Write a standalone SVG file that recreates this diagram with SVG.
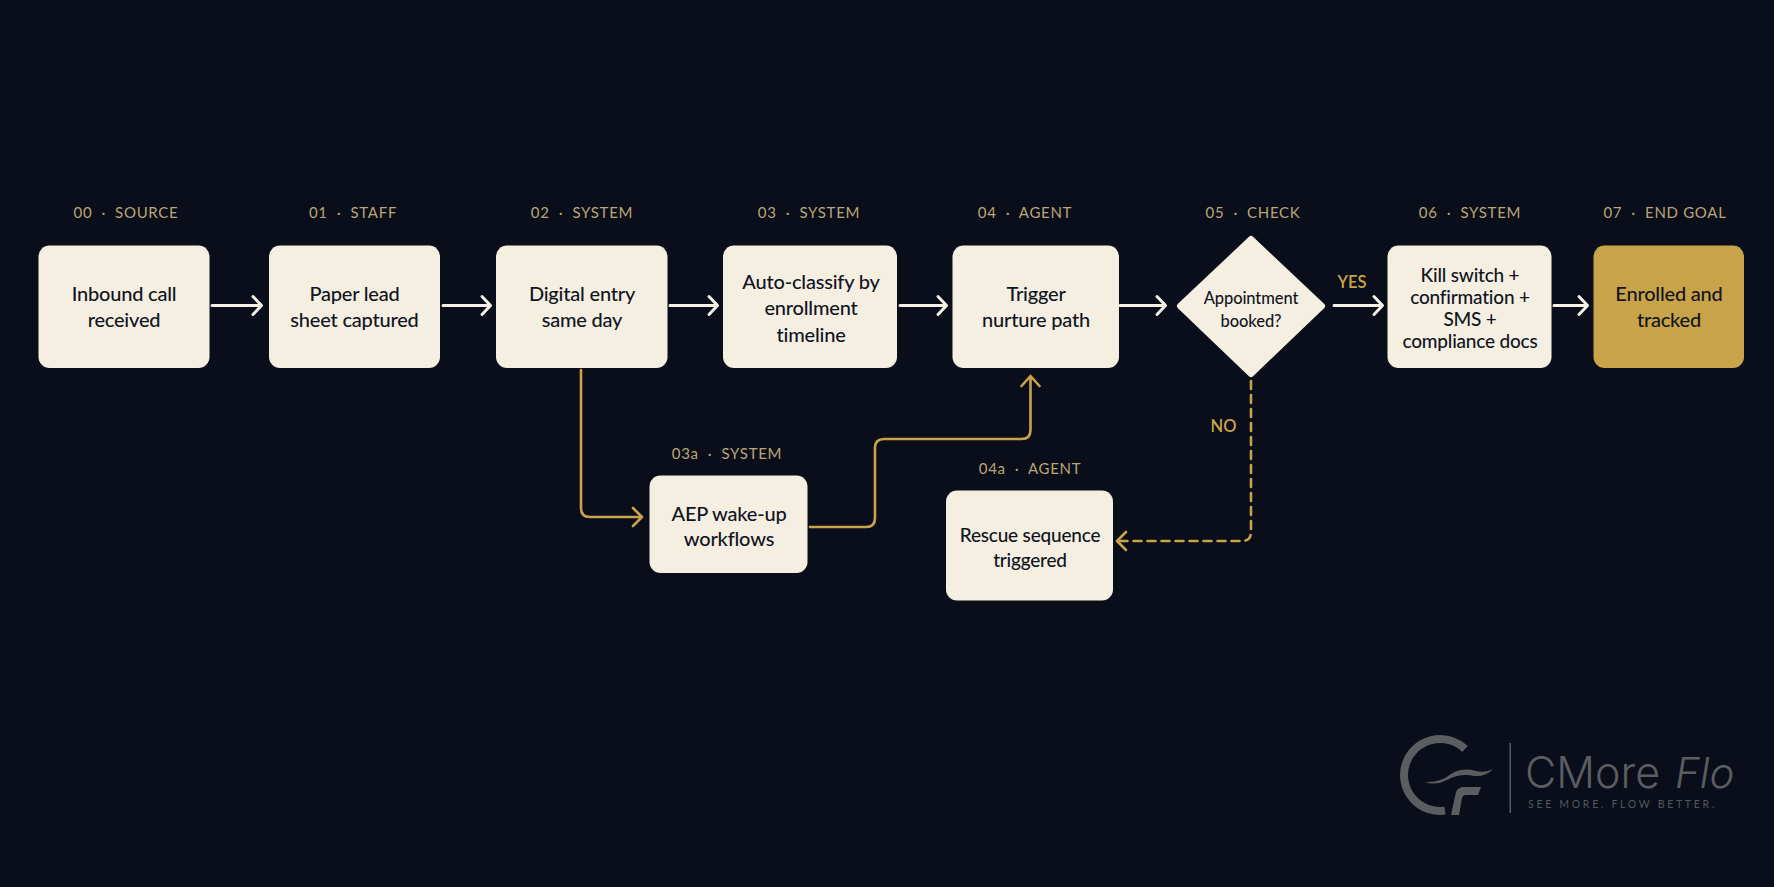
<svg xmlns="http://www.w3.org/2000/svg" width="1774" height="887" viewBox="0 0 1774 887">
<style>
text{font-family:"Lato","Liberation Sans",sans-serif}
.box{fill:#f5efe2}
.gold{fill:#c9a349}
.t{font-size:20px;font-weight:500;fill:#11151f;text-anchor:middle;letter-spacing:-.2px}
.s{font-size:19px}
.d{font-size:16.5px;letter-spacing:-.1px}
.l{font-size:15px;fill:#bca576;text-anchor:middle;letter-spacing:.7px}
.w{fill:none;stroke:#f7f2e6;stroke-width:3;stroke-linecap:round;stroke-linejoin:round}
.g{fill:none;stroke:#c9a349;stroke-width:2.600;stroke-linecap:round;stroke-linejoin:round}
.y{font-size:16.500px;font-weight:600;fill:#c9a349;text-anchor:middle}
.m{fill:#5b5d60}
</style>
<rect width="1774" height="887" fill="#090e1a"/>
<g id="connectors">
<path class="w" d="M212 305.500H261M253 296.500L261.500 305.500L253 314.500"/>
<path class="w" d="M443 305.500H490M482 296.500L490.500 305.500L482 314.500"/>
<path class="w" d="M670 305.500H717M709 296.500L717.500 305.500L709 314.500"/>
<path class="w" d="M900 305.500H946M938 296.500L946.500 305.500L938 314.500"/>
<path class="w" d="M1120 305.500H1165M1157 296.500L1165.500 305.500L1157 314.500"/>
<path class="w" d="M1334 305.500H1382M1374 296.500L1382.500 305.500L1374 314.500"/>
<path class="w" d="M1554 305.500H1587M1579 296.500L1587.500 305.500L1579 314.500"/>
<path class="g" d="M581 370V508Q581 517 590 517H641.500M633 508L642 517L633 526"/>
<path class="g" d="M810 527H866Q875 527 875 518V448Q875 439 884 439H1021.500Q1030.500 439 1030.500 430V377M1021.500 386L1030.500 376L1039.500 386"/>
<path class="g" stroke-dasharray="8 6" d="M1251 381V532Q1251 541 1242 541H1119"/>
<path class="g" d="M1126 532L1117 541L1126 550"/>
<text class="y" x="1352" y="287.500">YES</text>
<text class="y" x="1223.500" y="431.500">NO</text>
</g>
<g id="n00"><text class="l" x="126" y="218" xml:space="preserve">00  ·  SOURCE</text><rect class="box" x="38.500" y="245.500" width="171" height="122.500" rx="11"/><text class="t" x="124" y="301">Inbound call</text><text class="t" x="124" y="327">received</text></g>
<g id="n01"><text class="l" x="353" y="218" xml:space="preserve">01  ·  STAFF</text><rect class="box" x="269" y="245.500" width="171" height="122.500" rx="11"/><text class="t" x="354.500" y="301">Paper lead</text><text class="t" x="354.500" y="327">sheet captured</text></g>
<g id="n02"><text class="l" x="582" y="218" xml:space="preserve">02  ·  SYSTEM</text><rect class="box" x="496" y="245.500" width="171.500" height="122.500" rx="11"/><text class="t" x="582" y="301">Digital entry</text><text class="t" x="582" y="327">same day</text></g>
<g id="n03"><text class="l" x="809" y="218" xml:space="preserve">03  ·  SYSTEM</text><rect class="box" x="723" y="245.500" width="174" height="122.500" rx="11"/><text class="t" x="811" y="289">Auto-classify by</text><text class="t" x="811" y="315">enrollment</text><text class="t" x="811" y="341.500">timeline</text></g>
<g id="n04"><text class="l" x="1025" y="218" xml:space="preserve">04  ·  AGENT</text><rect class="box" x="952.500" y="245.500" width="166.500" height="122.500" rx="11"/><text class="t" x="1036" y="301">Trigger</text><text class="t" x="1036" y="327">nurture path</text></g>
<g id="n05"><text class="l" x="1253" y="218" xml:space="preserve">05  ·  CHECK</text><path class="box" stroke="#f5efe2" stroke-width="6" stroke-linejoin="round" d="M1251 239L1322 306L1251 374L1180 306Z"/><text class="t d" x="1251" y="304">Appointment</text><text class="t d" x="1251" y="327">booked?</text></g>
<g id="n06"><text class="l" x="1470" y="218" xml:space="preserve">06  ·  SYSTEM</text><rect class="box" x="1387.500" y="245.500" width="164" height="122.500" rx="11"/><text class="t s" x="1470" y="281.500">Kill switch +</text><text class="t s" x="1470" y="304">confirmation +</text><text class="t s" x="1470" y="326">SMS +</text><text class="t s" x="1470" y="348">compliance docs</text></g>
<g id="n07"><text class="l" x="1665" y="218" xml:space="preserve">07  ·  END GOAL</text><rect class="gold" x="1593.500" y="245.500" width="150.500" height="122.500" rx="11"/><text class="t" x="1669" y="301">Enrolled and</text><text class="t" x="1669" y="327">tracked</text></g>
<g id="n03a"><text class="l" x="727" y="459" xml:space="preserve">03a  ·  SYSTEM</text><rect class="box" x="649.500" y="475.500" width="158" height="97.500" rx="11"/><text class="t" x="729" y="520.500">AEP wake-up</text><text class="t" x="729" y="546">workflows</text></g>
<g id="n04a"><text class="l" x="1030" y="474" xml:space="preserve">04a  ·  AGENT</text><rect class="box" x="946" y="490.500" width="167" height="110" rx="11"/><text class="t s" x="1030" y="541.500">Rescue sequence</text><text class="t s" x="1030" y="566.500">triggered</text></g>
<g id="logo">
<path fill="none" stroke="#5b5d60" stroke-width="8" d="M1465 749A36 36 0 1 0 1445 810.600"/>
<path class="m" d="M1425 782Q1440 783 1451 774Q1462 767 1476 771Q1486 773 1493 769Q1486 777 1474 776Q1460 773 1447 780Q1436 786 1425 782Z"/>
<path class="m" d="M1451 815L1456 792Q1458 787 1464 787H1481L1478 795H1466Q1463 795 1462 798L1459 815Z"/>
<rect class="m" x="1509.500" y="743" width="1.500" height="70"/>
<text x="1525" y="788" font-size="43" font-weight="300" fill="#5b5d60" style="font-family:Inter,Lato,sans-serif">CMore</text>
<text x="1675" y="788" font-size="42" font-weight="300" font-style="italic" fill="#5b5d60" style="font-family:Inter,Lato,sans-serif">Flo</text>
<text x="1528" y="807.500" font-size="10.500" letter-spacing="2.700" fill="#54575b">SEE MORE. FLOW BETTER.</text>
</g>
</svg>
